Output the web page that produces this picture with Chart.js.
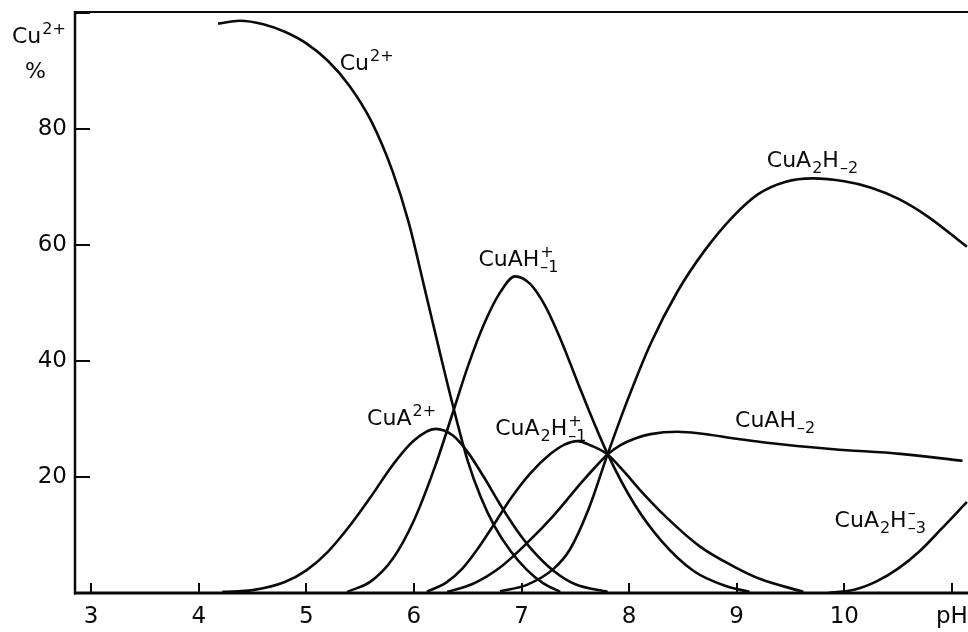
<!DOCTYPE html>
<html><head><meta charset="utf-8">
<script src="https://cdn.jsdelivr.net/npm/chart.js@4/dist/chart.umd.min.js"></script>
<style>html,body{margin:0;padding:0;background:#fff}#wrap{width:968px;height:632px;position:relative}</style>
</head><body><div id="wrap"><canvas id="c"></canvas></div>
<script>
// ---- axes ----
const xTicks = [3, 4, 5, 6, 7, 8, 9, 10, 11];
const xTickLabels = ['3', '4', '5', '6', '7', '8', '9', '10', 'pH'];
const yTicks = [20, 40, 60, 80, 100];
const yTickLabels = ['20', '40', '60', '80', ''];

// ---- species curves (pH, % Cu) ----
const phCu = [4.18, 4.38, 4.60, 4.80, 5.00, 5.20, 5.40, 5.60, 5.80, 5.95, 6.10, 6.25, 6.36, 6.50, 6.62, 6.75, 6.90, 7.05, 7.20, 7.36];
const pctCu = [98.2, 98.7, 98.1, 96.8, 94.8, 91.8, 87.5, 81.5, 72.8, 64.0, 52.5, 40.8, 32.5, 22.8, 16.6, 11.5, 7.2, 4.0, 1.7, 0.2];

const phCuA = [4.22, 4.50, 4.80, 5.00, 5.20, 5.40, 5.60, 5.80, 6.00, 6.20, 6.36, 6.50, 6.65, 6.80, 6.95, 7.10, 7.30, 7.50, 7.80];
const pctCuA = [0.2, 0.5, 1.9, 3.9, 7.1, 11.5, 16.6, 22.0, 26.3, 28.3, 27.2, 24.3, 20.0, 15.3, 11.0, 7.4, 3.8, 1.5, 0.2];

const phCuAH1 = [5.38, 5.60, 5.80, 6.00, 6.20, 6.36, 6.50, 6.65, 6.80, 6.94, 7.08, 7.22, 7.38, 7.55, 7.80, 8.05, 8.30, 8.60, 8.90, 9.12];
const pctCuAH1 = [0.2, 2.0, 5.8, 12.5, 22.0, 31.0, 39.0, 46.3, 51.8, 54.6, 53.3, 49.5, 43.0, 35.0, 24.0, 15.3, 9.0, 3.8, 1.2, 0.2];

const phCuA2H1 = [6.12, 6.30, 6.45, 6.60, 6.75, 6.90, 7.08, 7.27, 7.40, 7.52, 7.65, 7.80, 7.95, 8.10, 8.35, 8.66, 8.97, 9.22, 9.62];
const pctCuA2H1 = [0.2, 1.8, 4.2, 7.8, 12.0, 16.3, 20.6, 24.0, 25.6, 26.2, 25.4, 23.9, 21.0, 17.8, 13.0, 8.0, 4.6, 2.4, 0.2];

const phCuAH2 = [6.31, 6.55, 6.80, 7.05, 7.30, 7.55, 7.68, 7.80, 7.92, 8.05, 8.20, 8.45, 8.66, 9.00, 9.28, 9.90, 10.52, 11.10];
const pctCuAH2 = [0.2, 1.6, 4.4, 8.6, 13.4, 18.9, 21.6, 23.9, 25.5, 26.6, 27.4, 27.8, 27.5, 26.6, 25.9, 24.8, 24.0, 22.8];

const phCuA2H2 = [6.80, 7.05, 7.30, 7.45, 7.62, 7.80, 7.98, 8.20, 8.45, 8.70, 8.97, 9.20, 9.45, 9.71, 10.00, 10.25, 10.50, 10.77, 11.14];
const pctCuA2H2 = [0.3, 1.4, 4.2, 7.5, 14.3, 23.9, 33.0, 43.0, 52.0, 59.0, 65.0, 68.8, 70.9, 71.5, 71.0, 69.9, 68.0, 65.0, 59.7];

const phCuA2H3 = [9.85, 10.10, 10.30, 10.50, 10.70, 10.90, 11.14];
const pctCuA2H3 = [0.0, 0.6, 2.0, 4.2, 7.2, 11.0, 15.7];

// ---- curve labels: [pH, %] anchor (left, baseline) and rich text parts ----
const curveLabels = [
  { at: [5.31, 90.2], parts: [['Cu', 'n'], ['2+', 'sup']] },
  { at: [5.565, 29.0], parts: [['CuA', 'n'], ['2+', 'sup']] },
  { at: [6.60, 56.4], parts: [['CuAH', 'n'], ['\u20131', 'sub', '+']] },
  { at: [6.755, 27.2], parts: [['CuA', 'n'], ['2', 'sub'], ['H', 'n'], ['\u20131', 'sub', '+']] },
  { at: [9.28, 73.4], parts: [['CuA', 'n'], ['2', 'sub'], ['H', 'n'], ['\u20132', 'sub']] },
  { at: [8.985, 28.6], parts: [['CuAH', 'n'], ['\u20132', 'sub']] },
  { at: [9.91, 11.4], parts: [['CuA', 'n'], ['2', 'sub'], ['H', 'n'], ['\u20133', 'sub', '\u2013']] }
];

const FONT = '"DejaVu Sans", "Liberation Sans", sans-serif';
const INK = '#0a0a0a';

function pts(xs, ys) { return xs.map((x, i) => ({ x: x, y: ys[i] })); }
const series = [
  [phCu, pctCu], [phCuA, pctCuA], [phCuAH1, pctCuAH1], [phCuA2H1, pctCuA2H1],
  [phCuAH2, pctCuAH2], [phCuA2H2, pctCuA2H2], [phCuA2H3, pctCuA2H3]
];

function drawChem(ctx, x, y, parts) {
  const big = 22, small = 16;
  ctx.textAlign = 'left';
  ctx.textBaseline = 'alphabetic';
  let cx = x;
  for (const p of parts) {
    const [t, k, sup] = p;
    if (k === 'n') {
      ctx.font = big + 'px ' + FONT;
      ctx.fillText(t, cx, y);
      cx += ctx.measureText(t).width;
    } else if (k === 'sup') {
      ctx.font = small + 'px ' + FONT;
      ctx.fillText(t, cx + 1, y - 9);
      cx += ctx.measureText(t).width + 1;
    } else if (k === 'sub') {
      ctx.font = small + 'px ' + FONT;
      ctx.fillText(t, cx + 1, y + 6);
      const w = ctx.measureText(t).width;
      if (sup) ctx.fillText(sup, cx + 1, y - 9);
      cx += w + 1;
    }
  }
}

const decor = {
  id: 'decor',
  afterDraw(chart) {
    const ctx = chart.ctx;
    const a = chart.chartArea;
    const xs = chart.scales.x, ys = chart.scales.y;
    ctx.save();
    ctx.strokeStyle = INK;
    ctx.fillStyle = INK;
    ctx.lineCap = 'butt';
    ctx.lineWidth = 2.5;
    ctx.beginPath(); ctx.moveTo(a.left, a.top - 1); ctx.lineTo(a.left, a.bottom + 1.5); ctx.stroke();
    ctx.lineWidth = 2;
    ctx.beginPath(); ctx.moveTo(a.left - 1, a.top); ctx.lineTo(a.right, a.top); ctx.stroke();
    ctx.lineWidth = 3;
    ctx.beginPath(); ctx.moveTo(a.left - 1, a.bottom); ctx.lineTo(a.right, a.bottom); ctx.stroke();
    ctx.lineWidth = 2;
    for (const v of xTicks) {
      const px = Math.round(xs.getPixelForValue(v));
      ctx.beginPath(); ctx.moveTo(px, a.bottom); ctx.lineTo(px, a.bottom - 10); ctx.stroke();
    }
    for (const v of yTicks) {
      const py = Math.round(ys.getPixelForValue(v));
      ctx.beginPath(); ctx.moveTo(a.left, py); ctx.lineTo(a.left + 15, py); ctx.stroke();
    }
    for (const l of curveLabels) {
      drawChem(ctx, xs.getPixelForValue(l.at[0]), ys.getPixelForValue(l.at[1]), l.parts);
    }
    drawChem(ctx, a.left - 63, a.top + 31, [['Cu', 'n'], ['2+', 'sup']]);
    ctx.font = '22px ' + FONT;
    ctx.fillText('%', a.left - 50, a.top + 66);
    ctx.restore();
  }
};

new Chart(document.getElementById('c'), {
  type: 'line',
  data: {
    datasets: series.map(s => ({
      data: pts(s[0], s[1]),
      borderColor: INK,
      borderWidth: 2.6,
      pointRadius: 0,
      fill: false,
      cubicInterpolationMode: 'monotone'
    }))
  },
  options: {
    responsive: true,
    maintainAspectRatio: false,
    animation: false,
    events: [],
    layout: { padding: { top: 12, left: 0, right: 0, bottom: 0 } },
    plugins: { legend: { display: false }, tooltip: { enabled: false } },
    scales: {
      x: {
        type: 'linear', min: 2.85, max: 11.15,
        grid: { display: false, drawTicks: false },
        border: { display: false },
        afterBuildTicks: s => { s.ticks = xTicks.map(v => ({ value: v })); },
        afterFit: s => { s.height = 39; s.paddingLeft = 0; s.paddingRight = 0; },
        ticks: {
          padding: 10, color: INK, maxRotation: 0, autoSkip: false,
          font: { family: FONT, size: 23 },
          callback: v => xTickLabels[xTicks.indexOf(v)] ?? ''
        }
      },
      y: {
        type: 'linear', min: 0, max: 100.2,
        grid: { display: false, drawTicks: false },
        border: { display: false },
        afterBuildTicks: s => { s.ticks = yTicks.map(v => ({ value: v })); },
        afterFit: s => { s.width = 75; s.paddingTop = 0; s.paddingBottom = 0; },
        ticks: {
          padding: 8, color: INK, autoSkip: false,
          font: { family: FONT, size: 23 },
          callback: v => yTickLabels[yTicks.indexOf(v)] ?? ''
        }
      }
    }
  },
  plugins: [decor]
});
</script>
</body></html>
